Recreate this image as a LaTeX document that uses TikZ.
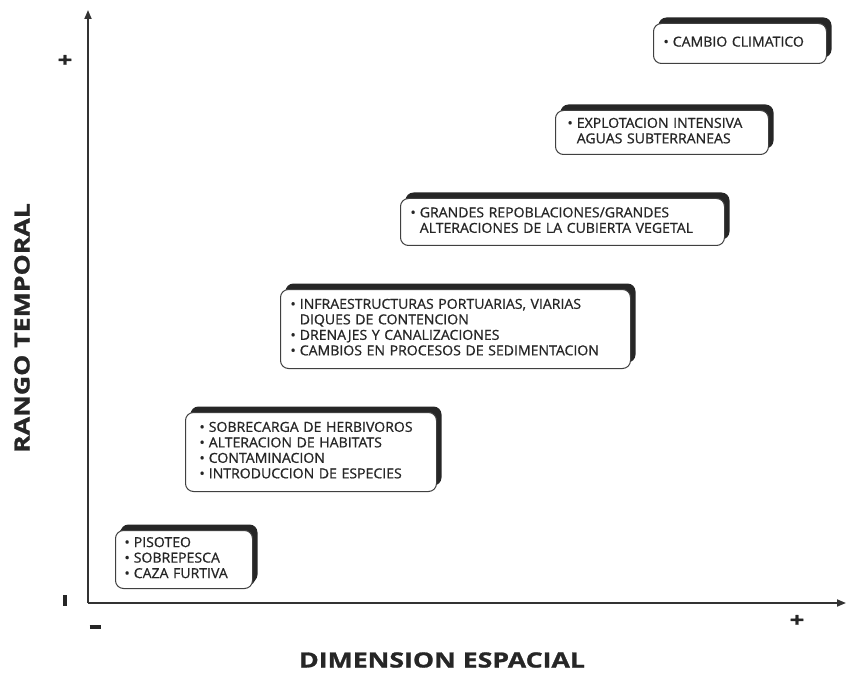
\documentclass[tikz,border=0pt]{standalone}
\usepackage{fontspec}
\setmainfont{Open Sans}
\newfontfamily\boxfont{Open Sans}[FakeStretch=1.02, FakeBold=0.8]
\newfontfamily\labelfont{Open Sans Bold}[FakeStretch=1.27, FakeBold=1.2]
\usetikzlibrary{shadows,arrows.meta}
\newcommand{\bl}{\textbullet}
\newcommand{\minussign}{\rule{11pt}{3.4pt}}
\begin{document}
\begin{tikzpicture}[x=1pt,y=-1pt,
  axis/.style={line width=1.8pt, draw=black!80, -{Triangle[length=9pt,width=7pt]}},
  effect/.style={draw=black!75, line width=1pt, fill=white, rounded corners=8pt,
    anchor=north west, inner ysep=0pt, align=left, text=black!85,
    font=\boxfont\fontsize{13.8}{15.5}\selectfont,
    general shadow={fill=black!85, shadow xshift=5pt, shadow yshift=6pt}},
  axlabel/.style={font=\labelfont\fontsize{21}{21}\selectfont, text=black!85},
  sign/.style={font=\labelfont\fontsize{20}{20}\selectfont, text=black!85, inner sep=0pt}
]
\useasboundingbox (0,0) rectangle (847,674);

% axes
\coordinate (O) at (88,603);
\coordinate (ytop) at (88,10);
\coordinate (xend) at (846,603);
\draw[axis] (O) -- (ytop);
\draw[axis] (O) -- (xend);

% axis labels and signs
\node[axlabel, rotate=90] (ylab) at (22,328) {RANGO TEMPORAL};
\node[axlabel] (xlab) at (442,660) {DIMENSION ESPACIAL};
\node[sign] (yplus) at (65,61) {+};
\node[sign, rotate=90] (yminus) at (65,600) {\minussign};
\node[sign] (xminus) at (95,627) {\minussign};
\node[sign] (xplus) at (797,621) {+};

% impact boxes
\node[effect, inner xsep=10pt, text width=153pt, minimum height=40pt] (b1) at (653,23)
  {\begin{tabular}{@{}l@{\hspace{4pt}}l@{}}\bl & CAMBIO CLIMATICO\end{tabular}};

\node[effect, inner xsep=12pt, text width=189pt, minimum height=44pt] (b2) at (555,110)
  {\begin{tabular}{@{}l@{\hspace{4pt}}l@{}}\bl & EXPLOTACION INTENSIVA\\ & AGUAS SUBTERRANEAS\end{tabular}};

\node[effect, inner xsep=10pt, text width=304pt, minimum height=47pt] (b3) at (400,198)
  {\begin{tabular}{@{}l@{\hspace{4pt}}l@{}}\bl & GRANDES REPOBLACIONES/GRANDES\\ & ALTERACIONES DE LA CUBIERTA VEGETAL\end{tabular}};

\node[effect, inner xsep=10pt, text width=330pt, minimum height=79pt] (b4) at (280,289)
  {\begin{tabular}{@{}l@{\hspace{4pt}}l@{}}\bl & INFRAESTRUCTURAS PORTUARIAS, VIARIAS\\ & DIQUES DE CONTENCION\\ \bl & DRENAJES Y CANALIZACIONES\\ \bl & CAMBIOS EN PROCESOS DE SEDIMENTACION\end{tabular}};

\node[effect, inner xsep=14pt, text width=223pt, minimum height=79pt] (b5) at (185,412)
  {\begin{tabular}{@{}l@{\hspace{4pt}}l@{}}\bl & SOBRECARGA DE HERBIVOROS\\ \bl & ALTERACION DE HABITATS\\ \bl & CONTAMINACION\\ \bl & INTRODUCCION DE ESPECIES\end{tabular}};

\node[effect, inner xsep=9pt, text width=119pt, minimum height=58pt,
  general shadow={fill=black!85, shadow xshift=3pt, shadow yshift=3pt}] (b6) at (115,530)
  {\begin{tabular}{@{}l@{\hspace{4pt}}l@{}}\bl & PISOTEO\\ \bl & SOBREPESCA\\ \bl & CAZA FURTIVA\end{tabular}};
\end{tikzpicture}
\end{document}
